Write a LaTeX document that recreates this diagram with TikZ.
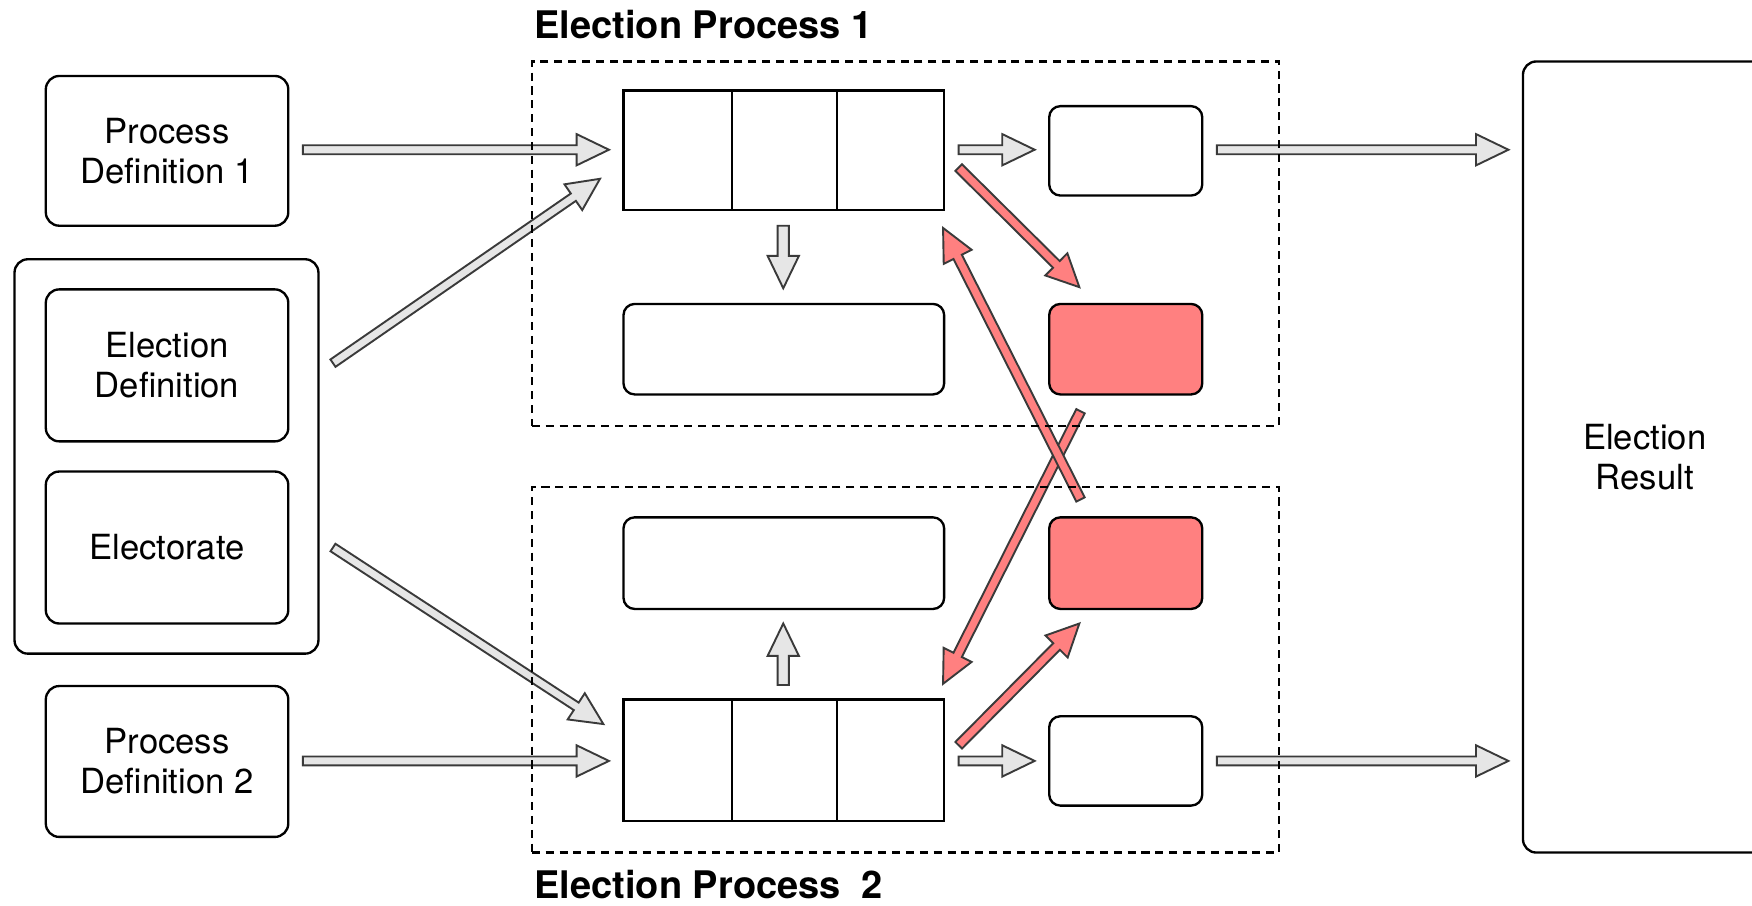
\documentclass[tikz,border=0pt]{standalone}
\usepackage{fontspec}
\setmainfont{TeX Gyre Heros}
\usetikzlibrary{calc}
\definecolor{gfill}{HTML}{E6E6E6}
\definecolor{astroke}{HTML}{3A3A3A}
\definecolor{rfill}{HTML}{FF8080}
\newcommand\barrow[5]{%
  \coordinate (hb) at ($(#3)!14.5pt!(#2)$);
  \draw[#1] ($(#2)!#4!90:(#3)$) -- ($(hb)!#4!-90:(#2)$) -- ($(hb)!#5!-90:(#2)$) -- (#3) -- ($(hb)!#5!90:(#2)$) -- ($(hb)!#4!90:(#2)$) -- ($(#2)!#4!-90:(#3)$) -- cycle;}
\tikzset{
  box/.style={draw=black, line width=1.05pt, rounded corners=6pt, fill=white, inner sep=0pt, align=center, font=\fontsize{15.5pt}{18pt}\selectfont},
  smallbox/.style={box, rounded corners=5pt},
  cell/.style={draw=black, line width=1.05pt, fill=white, inner sep=0pt},
  redbox/.style={smallbox, fill=rfill},
  dashbox/.style={draw=black, line width=0.95pt, dash pattern=on 3.6pt off 2.6pt, inner sep=0pt},
  title/.style={font=\fontsize{17pt}{20pt}\selectfont\bfseries, anchor=west, inner sep=0pt},
  garrow/.style={fill=gfill, draw=astroke, line width=0.85pt, line join=miter},
  rarrow/.style={fill=rfill, draw=astroke, line width=0.85pt, line join=miter}
}
\begin{document}
\begin{tikzpicture}[x=0.5pt,y=-0.5pt]
\clip (0,0) rectangle (1568,810);
% left side
\node[box, minimum width=136pt, minimum height=176.5pt] (grp) at (149,408.5) {};
\node[box, minimum width=108.5pt, minimum height=67pt] (pd1) at (149.5,135) {Process\\Definition 1};
\node[box, minimum width=108.5pt, minimum height=68pt] (ed) at (149.5,327) {Election\\Definition};
\node[box, minimum width=108.5pt, minimum height=68pt] (el) at (149.5,490) {Electorate};
\node[box, minimum width=108.5pt, minimum height=67.5pt] (pd2) at (149.5,681.5) {Process\\Definition 2};
% result
\node[box, minimum width=109pt, minimum height=354pt] (res) at (1472,409) {Election\\Result};
% process 1
\node[cell, minimum width=48.5pt, minimum height=53.5pt] (t1a) at (606.5,134.5) {};
\node[cell, minimum width=47pt, minimum height=53.5pt] (t1b) at (702,134.5) {};
\node[cell, minimum width=48pt, minimum height=53.5pt] (t1c) at (797,134.5) {};
\node[smallbox, minimum width=68.5pt, minimum height=40pt] (s1) at (1007.5,135) {};
\node[smallbox, minimum width=143.5pt, minimum height=40.5pt] (w1) at (701.5,312.5) {};
\node[redbox, minimum width=68.5pt, minimum height=40.5pt] (r1) at (1007.5,312.5) {};
% process 2
\node[smallbox, minimum width=143.5pt, minimum height=41pt] (w2) at (701.5,504) {};
\node[redbox, minimum width=68.5pt, minimum height=41pt] (r2) at (1007.5,504) {};
\node[cell, minimum width=48.5pt, minimum height=54.5pt] (t2a) at (606.5,680.5) {};
\node[cell, minimum width=47pt, minimum height=54.5pt] (t2b) at (702,680.5) {};
\node[cell, minimum width=48pt, minimum height=54.5pt] (t2c) at (797,680.5) {};
\node[smallbox, minimum width=68.5pt, minimum height=40pt] (s2) at (1007.5,681) {};
% arrow end points
\coordinate (a1s) at (271,134); \coordinate (a1e) at (545,134);
\coordinate (a2s) at (298,325); \coordinate (a2e) at (537,160);
\coordinate (a3s) at (298,490); \coordinate (a3e) at (540,648);
\coordinate (a4s) at (271,681); \coordinate (a4e) at (545,681);
\coordinate (a5s) at (858,134); \coordinate (a5e) at (926,134);
\coordinate (a6s) at (1089,134); \coordinate (a6e) at (1350,134);
\coordinate (a7s) at (858,681); \coordinate (a7e) at (926,681);
\coordinate (a8s) at (1089,681); \coordinate (a8e) at (1350,681);
\coordinate (a9s) at (701,202); \coordinate (a9e) at (701,258);
\coordinate (a10s) at (701,613); \coordinate (a10e) at (701,558);
\coordinate (r11s) at (858,150); \coordinate (r11e) at (966,257);
\coordinate (r12s) at (967,447); \coordinate (r12e) at (844,204);
\coordinate (r13s) at (967,368); \coordinate (r13e) at (844,612);
\coordinate (r14s) at (858,667); \coordinate (r14e) at (966,558);
% grey arrows
\barrow{garrow}{a1s}{a1e}{2pt}{7pt}
\barrow{garrow}{a2s}{a2e}{2pt}{7pt}
\barrow{garrow}{a3s}{a3e}{2pt}{7pt}
\barrow{garrow}{a4s}{a4e}{2pt}{7pt}
\barrow{garrow}{a5s}{a5e}{2pt}{7pt}
\barrow{garrow}{a6s}{a6e}{2pt}{7pt}
\barrow{garrow}{a7s}{a7e}{2pt}{7pt}
\barrow{garrow}{a8s}{a8e}{2pt}{7pt}
\barrow{garrow}{a9s}{a9e}{2.5pt}{7pt}
\barrow{garrow}{a10s}{a10e}{2.5pt}{7pt}
% red arrows
\barrow{rarrow}{r11s}{r11e}{2.1pt}{7pt}
\barrow{rarrow}{r13s}{r13e}{2.1pt}{7pt}
\barrow{rarrow}{r12s}{r12e}{2.1pt}{7pt}
\barrow{rarrow}{r14s}{r14e}{2.1pt}{7pt}
% dashed frames
\node[dashbox, minimum width=334.5pt, minimum height=163pt] (d1) at (810.5,218) {};
\node[dashbox, minimum width=334.5pt, minimum height=163.5pt] (d2) at (810.5,599.5) {};
\node[title] (t1) at (478,22) {Election Process 1};
\node[title] (t2) at (478,792) {Election Process\ \ 2};
\end{tikzpicture}
\end{document}
